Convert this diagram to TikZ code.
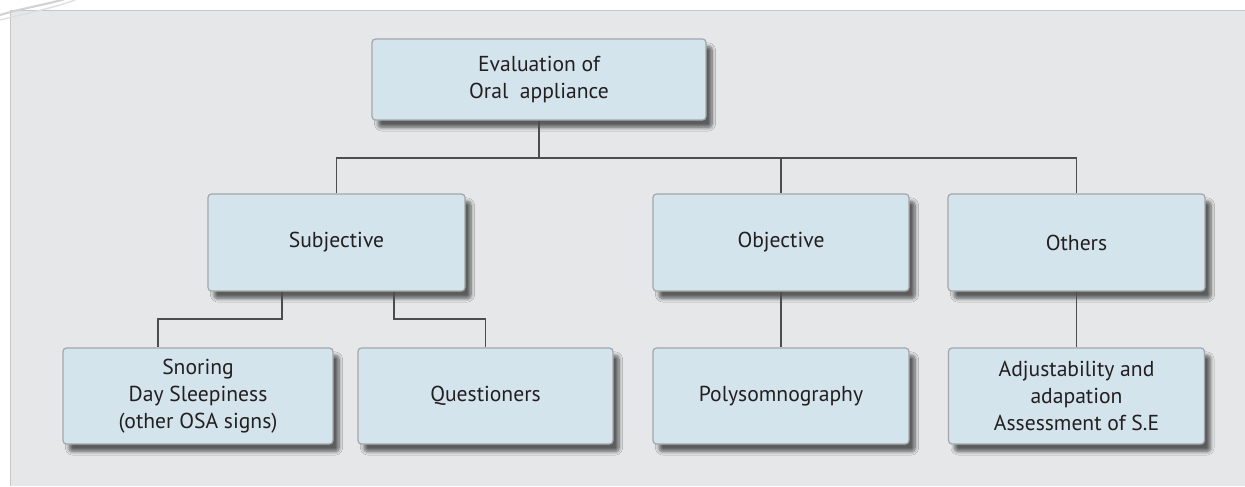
\documentclass[tikz,border=0pt]{standalone}
\usepackage{fontspec}
\setmainfont{PT Sans}
\usepackage{tikz}
\usetikzlibrary{calc,shadows.blur}
\definecolor{panel}{HTML}{E6E7E8}
\definecolor{boxfill}{HTML}{D4E4EC}
\definecolor{boxline}{HTML}{A3A7AB}
\definecolor{wire}{HTML}{4D4D4F}
\definecolor{ink}{HTML}{231F20}
\begin{document}
\begin{tikzpicture}[
  box/.style={rectangle, rounded corners=2pt, draw=boxline, line width=0.7pt, fill=boxfill,
    text=ink, align=center, font=\fontsize{12.3}{15.5}\selectfont, inner sep=2pt,
    blur shadow={shadow xshift=0.12cm, shadow yshift=-0.15cm, shadow blur steps=8, shadow opacity=60}},
  wire/.style={draw=wire, line width=1pt}]
  \useasboundingbox (0,0) rectangle (24.9,-9.72);
  % grey panel behind the chart
  \fill[panel] (0.2,-0.21) rectangle (24.9,-9.72);
  \draw[gray!45, line width=0.8pt] (0.21,-9.72) -- (0.21,-0.21) -- (24.9,-0.21);
  \draw[gray!35, line width=1.2pt] (0,-0.3) .. controls (0.5,-0.15) and (1.0,-0.08) .. (1.4,0.05);
  \draw[gray!25, line width=0.8pt] (0,-0.4) .. controls (0.6,-0.25) and (1.1,-0.15) .. (1.5,0.0);

  \node[box, minimum width=6.68cm, minimum height=1.62cm] (root) at (10.78,-1.59) {Evaluation of\\Oral~ appliance};

  \node[box, minimum width=5.14cm, minimum height=1.94cm] (subj) at (6.73,-4.85) {Subjective};
  \node[box, minimum width=5.12cm, minimum height=1.94cm] (obj) at (15.62,-4.85) {Objective};
  \node[box, minimum width=5.14cm, minimum height=1.94cm] (oth) at (21.53,-4.85) {Others};

  \node[box, minimum width=5.40cm, minimum height=1.92cm] (snor) at (3.96,-7.92) {Snoring\\Day Sleepiness\\(other OSA signs)};
  \node[box, minimum width=5.10cm, minimum height=1.92cm] (ques) at (9.71,-7.92) {Questioners};
  \node[box, minimum width=5.12cm, minimum height=1.92cm] (poly) at (15.62,-7.92) {Polysomnography};
  \node[box, minimum width=5.12cm, minimum height=1.92cm] (adj) at (21.53,-7.92) {Adjustability and\\adapation\\Assessment of S.E};

  % connectors
  \coordinate (bus) at (0,-3.16);
  \draw[wire] (root.south) -- (root.south |- bus);
  \draw[wire] (subj.north) -- (subj.north |- bus) -- (oth.north |- bus) -- (oth.north);
  \draw[wire] (obj.north) -- (obj.north |- bus);
  \draw[wire] ([xshift=-1.09cm]subj.south) -- ++(0,-0.54) -| ([xshift=-0.8cm]snor.north);
  \draw[wire] ([xshift=1.15cm]subj.south) -- ++(0,-0.54) -| (ques.north);
  \draw[wire] (obj.south) -- (poly.north);
  \draw[wire] (oth.south) -- (adj.north);
\end{tikzpicture}
\end{document}
